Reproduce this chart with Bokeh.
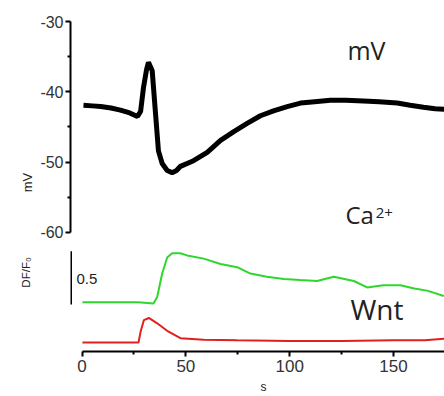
import math
from bokeh.plotting import figure
from bokeh.models import (LinearAxis, FixedTicker, Range1d, Label, Arrow, CustomJSTickFormatter)
from bokeh.embed import file_html
from bokeh.resources import INLINE

# ---- data ----
t_mv = [0.7, 5, 9, 14, 18.5, 23, 26.7, 28.2, 29.6, 31.1, 32.0, 33.8, 35.4, 36.8, 38.6, 41.0,
        43.4, 45.5, 47.4, 53.7, 60.3, 66.7, 72.9, 79.5, 85.9, 92.2, 98.8, 105.2, 112, 119.6,
        127, 135.5, 143, 151.8, 158, 164.4, 170, 174.5]
mv = [-41.9, -42.0, -42.1, -42.3, -42.6, -43.0, -43.5, -42.8, -39.4, -36.8, -35.8, -37.0, -43.1,
      -48.4, -50.2, -51.2, -51.5, -51.2, -50.6, -49.8, -48.6, -46.9, -45.7, -44.5, -43.4, -42.7,
      -42.1, -41.6, -41.4, -41.2, -41.2, -41.3, -41.4, -41.6, -41.9, -42.2, -42.4, -42.5]

t_ca = [0.2, 8, 18.5, 27, 34.4, 36.2, 38.6, 41.0, 43.4, 47.4, 50.6, 58.6, 66.7, 74.7, 81.1, 89,
        97.2, 105, 113.2, 121.2, 130.9, 137.3, 145, 153.3, 160, 166.2, 174.2]
ca = [0.02, 0.02, 0.02, 0.02, 0.01, 0.07, 0.29, 0.44, 0.48, 0.48, 0.46, 0.43, 0.38, 0.35, 0.29,
      0.26, 0.24, 0.23, 0.22, 0.26, 0.22, 0.16, 0.18, 0.18, 0.15, 0.13, 0.08]

t_wnt = [0.2, 10, 20, 27.2, 28.2, 29.8, 32.2, 36.2, 41.0, 47.4, 58.6, 74.7, 100, 125, 150, 165, 174.5]
wnt = [0.0, 0.0, 0.0, 0.0, 0.10, 0.21, 0.23, 0.18, 0.11, 0.04, 0.025, 0.02, 0.015, 0.015, 0.02,
       0.02, 0.035]

x_ticks = [0, 50, 100, 150]
x_minor = [25, 75, 125, 175]
y_ticks = [-60, -50, -40, -30]
y_minor = [-55, -45, -35]
scale_bar = [0, 0.5]

# ---- figure ----
p = figure(width=444, height=396, output_backend="svg", toolbar_location=None,
           x_axis_type=None, y_axis_type=None,
           x_range=Range1d(-5.54, 174.53), y_range=Range1d(-76.94, -28.86),
           min_border_left=70, min_border_right=0, min_border_top=13, min_border_bottom=45)
p.outline_line_color = None
p.background_fill_color = "white"
p.border_fill_color = "white"
p.extra_y_ranges = {"ca": Range1d(-0.4405, 2.727), "wnt": Range1d(-0.0843, 3.083)}

tick_font = "Liberation Sans"
fmt = CustomJSTickFormatter(code="return String(tick)")
yax = LinearAxis(ticker=FixedTicker(ticks=y_ticks, minor_ticks=y_minor), bounds=(-60, -30),
                 formatter=fmt,
                 axis_label="mV", axis_label_text_font_style="normal",
                 axis_label_text_font_size="13px", axis_label_text_font=tick_font,
                 axis_label_text_color="#222222", axis_label_standoff=2,
                 major_label_text_font=tick_font, major_label_text_font_size="16px",
                 major_label_text_color="#333333", major_label_standoff=2,
                 axis_line_width=2, major_tick_line_width=2, minor_tick_line_width=2,
                 major_tick_in=0, major_tick_out=5, minor_tick_in=0, minor_tick_out=3)
p.add_layout(yax, "left")

xax = LinearAxis(ticker=FixedTicker(ticks=x_ticks, minor_ticks=x_minor), bounds=(0, 175),
                 formatter=fmt,
                 major_label_text_font=tick_font, major_label_text_font_size="17px",
                 major_label_text_color="#333333", major_label_standoff=3,
                 axis_line_width=2, major_tick_line_width=2, minor_tick_line_width=2,
                 major_tick_in=0, major_tick_out=5, minor_tick_in=0, minor_tick_out=3)
p.add_layout(xax, "below")

p.line(t_mv, mv, line_color="black", line_width=5)
p.line(t_ca, ca, line_color="#2ed62e", line_width=2, y_range_name="ca")
p.line(t_wnt, wnt, line_color="#e0201e", line_width=2, y_range_name="wnt")

# scale bar for DF/F0
p.add_layout(Arrow(end=None, start=None, x_start=-5.3, y_start=scale_bar[0], x_end=-5.3,
                   y_end=scale_bar[1], y_range_name="ca", line_width=2, line_color="black"))

txt = "Open Sans"
p.add_layout(Label(x=-2.65, y=-66.56, text="0.5", text_font=tick_font, text_font_size="15px",
                   text_baseline="middle", text_color="#222222"))
p.add_layout(Label(x=-27.2, y=-65.7, text="DF/F₀", angle=math.pi / 2, text_align="center",
                   text_baseline="middle", text_font=tick_font, text_font_size="11.5px",
                   text_color="#222222"), "left")
p.add_layout(Label(x=87.4, y=-83.0, text="s", text_align="center", text_font=tick_font,
                   text_font_size="12px", text_color="#222222"), "below")
p.add_layout(Label(x=136.97, y=-36.54, text="mV", text_align="center", text_font=txt,
                   text_font_size="25px", text_color="#222222"))
p.add_layout(Label(x=126.86, y=-59.73, text="Ca", text_font=txt,
                   text_font_size="24px", text_color="#222222"))
p.add_layout(Label(x=141.4, y=-57.88, text="2+", text_font=txt,
                   text_font_size="15px", text_color="#222222"))
p.add_layout(Label(x=129.27, y=-73.53, text="Wnt", text_font=txt,
                   text_font_size="28px", text_color="#222222"))

open("out.html", "w").write(file_html(p, INLINE))
